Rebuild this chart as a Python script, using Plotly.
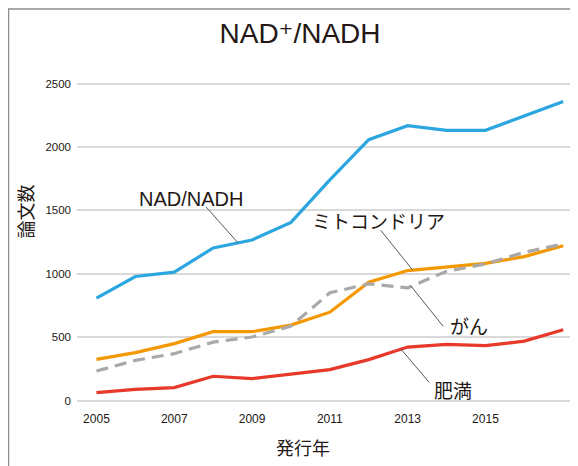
import plotly.graph_objects as go

# ---- data ----
years = [2005, 2006, 2007, 2008, 2009, 2010, 2011, 2012, 2013, 2014, 2015, 2016, 2017]
nad_nadh = [808, 979, 1013, 1204, 1267, 1406, 1741, 2058, 2168, 2131, 2131, 2242, 2358]
mito = [326, 379, 450, 544, 544, 596, 698, 934, 1026, 1052, 1083, 1136, 1222]
gan = [234, 318, 371, 462, 502, 588, 851, 921, 890, 1020, 1078, 1170, 1236]
himan = [64, 90, 104, 193, 175, 208, 245, 324, 423, 444, 434, 470, 560]
x_tickvals = [2005, 2007, 2009, 2011, 2013, 2015]
y_tickvals = [0, 500, 1000, 1500, 2000, 2500]

# page has an 8px body margin: figure occupies page pixels 8..578 / 8..466
OFF = 8
W, H = 578 - OFF, 466 - OFF
ML, MR, MT, MB = 77 - OFF, 0, 80.5 - OFF, 64.4
PW, PH = W - ML - MR, H - MT - MB
X0, X1 = 2004.5, 2004.5 + PW / 38.9
Y0, Y1 = -10, 2520

def px_to_paper(px, py):
    """page pixel -> paper coords"""
    return (px - OFF - ML) / PW, (H - MB - (py - OFF)) / PH

JP = "Noto Sans CJK JP"
LAT = "Liberation Sans, Arial, sans-serif"
TXT = "#231815"

fig = go.Figure()
series = [
    ("NAD/NADH", nad_nadh, "#2ca6e0", "solid"),
    ("ミトコンドリア", mito, "#f39800", "solid"),
    ("がん", gan, "#a9a9a9", "12px,7px"),
    ("肥満", himan, "#e8382a", "solid"),
]
for name, vals, col, dash in series:
    fig.add_trace(go.Scatter(x=years, y=vals, mode="lines", name=name,
                             line=dict(color=col, width=3.2, dash=dash),
                             hoverinfo="skip"))

annotations = []
labels = [
    ("NAD/NADH", 191, 199, LAT, 20),
    ("ミトコンドリア", 378.7, 220, JP, 19),
    ("がん", 469, 325, JP, 19),
    ("肥満", 452.5, 389, JP, 19),
]
for t, px, py, fam, sz in labels:
    xp, yp = px_to_paper(px, py)
    annotations.append(dict(text=t, x=xp, y=yp, xref="paper", yref="paper",
                            showarrow=False, xanchor="center", yanchor="middle",
                            font=dict(family=fam, size=sz, color=TXT)))

# leader lines: (data x, data y, pixel offset dx, dy of the far end)
leaders = [
    (2008.64, 1244, -32, -36),
    (2013.13, 1029, -32, -40),
    (2013.09, 902, 32, 40),
    (2012.83, 406, 28, 33),
]
ppx = PW / (X1 - X0)
ppy = PH / (Y1 - Y0)
shapes = []
for x, y, dx, dy in leaders:
    shapes.append(dict(type="line", xref="x", yref="y", x0=x, y0=y,
                       x1=x + dx / ppx, y1=y - dy / ppy,
                       line=dict(color="#595757", width=1)))

# axis titles
xp, yp = px_to_paper(25, 211)
annotations.append(dict(text="論文数", x=xp, y=yp, xref="paper", yref="paper",
                        showarrow=False, textangle=-90, xanchor="center", yanchor="middle",
                        font=dict(family=JP, size=18, color=TXT)))
xp, yp = px_to_paper(303, 447)
annotations.append(dict(text="発行年", x=xp, y=yp, xref="paper", yref="paper",
                        showarrow=False, xanchor="center", yanchor="middle",
                        font=dict(family=JP, size=18, color=TXT)))

# chart frame
fx0, fy0 = px_to_paper(8.5, 8.5)
fx1, fy1 = px_to_paper(600, 500)
shapes.append(dict(type="rect", xref="paper", yref="paper", x0=fx0, y0=fy1, x1=fx1, y1=fy0,
                   line=dict(color="#8c8c8c", width=1.5), fillcolor="rgba(0,0,0,0)",
                   layer="below"))

fig.update_layout(
    width=W, height=H,
    margin=dict(l=ML, r=MR, t=MT, b=MB, pad=0),
    paper_bgcolor="white", plot_bgcolor="white",
    showlegend=False,
    title=dict(text="NAD⁺/NADH", x=(300 - OFF) / W, y=1 - (33.5 - OFF) / H,
               xref="container", yref="container", xanchor="center", yanchor="middle",
               font=dict(family="Liberation Sans, DejaVu Sans, sans-serif", size=28, color=TXT)),
    xaxis=dict(range=[X0, X1], tickvals=x_tickvals,
               ticktext=[str(v) for v in x_tickvals], showgrid=False, zeroline=False,
               showline=False, ticks="", ticklabelstandoff=8,
               tickfont=dict(family=LAT, size=12, color=TXT)),
    yaxis=dict(range=[Y0, Y1], tickvals=y_tickvals, showgrid=True,
               gridcolor="#d9d9d9", gridwidth=1.5, zeroline=False, showline=False,
               ticks="", ticklabelstandoff=5,
               tickfont=dict(family=LAT, size=11.5, color=TXT)),
    annotations=annotations,
    shapes=shapes,
)

fig.write_html("out.html")
